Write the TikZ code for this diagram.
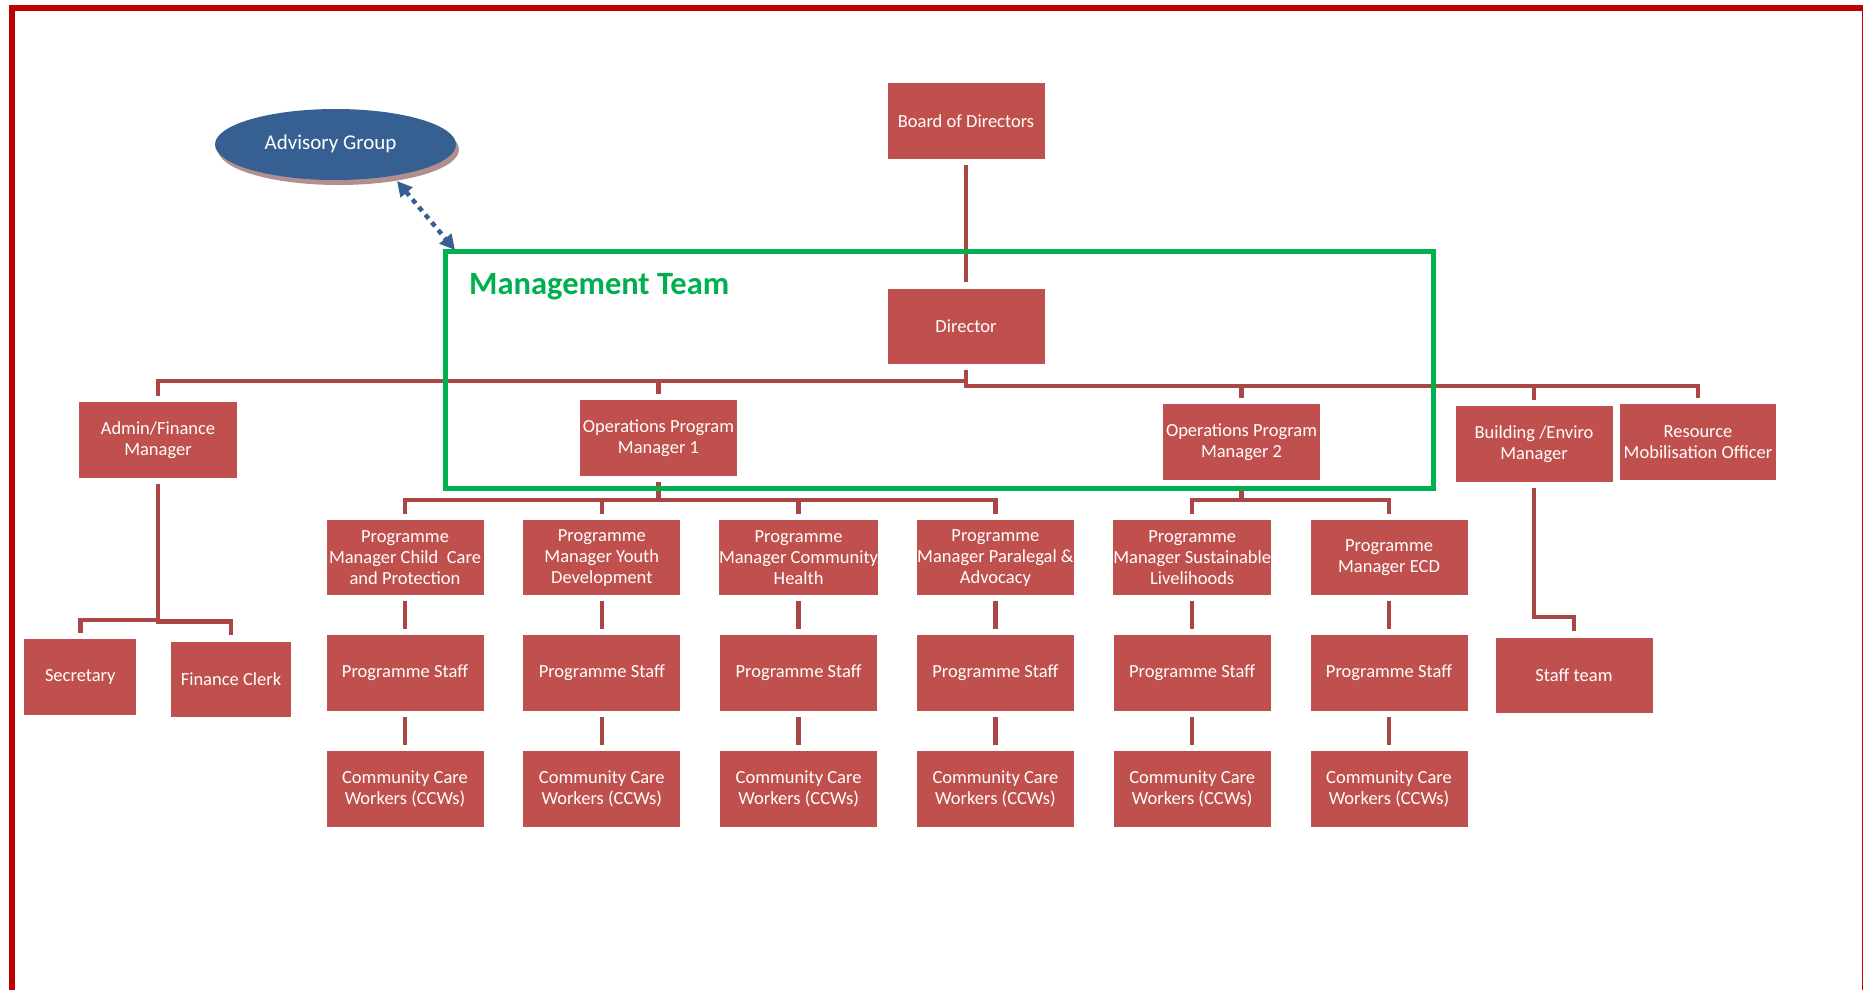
\documentclass[tikz,border=0pt]{standalone}
\usepackage{fontspec}
\setmainfont{Carlito}
\usetikzlibrary{arrows.meta,shapes.geometric}
\definecolor{boxred}{RGB}{192,80,77}
\definecolor{linered}{RGB}{170,70,68}
\definecolor{framered}{RGB}{192,0,0}
\definecolor{mgreen}{RGB}{0,176,80}
\definecolor{advblue}{RGB}{54,96,146}
\definecolor{advshadow}{RGB}{178,143,143}
\begin{document}
\begin{tikzpicture}[x=1pt,y=-1pt,
  orgbox/.style={fill=boxred, text=white, minimum width=157pt, minimum height=76pt,
    inner sep=0pt, align=center, font=\fontsize{18.5}{21}\selectfont},
  conn/.style={draw=linered, line width=4.5pt, shorten <=6pt, shorten >=6pt},
  advarrow/.style={draw=advblue, line width=4.5pt, dash pattern=on 5pt off 5pt,
    {Triangle[length=15pt,width=15pt]}-{Triangle[length=15pt,width=15pt]}},
  mgmtbox/.style={draw=mgreen, line width=5pt, minimum width=988pt, minimum height=236.5pt, inner sep=0pt}
]
\useasboundingbox (0,0) rectangle (1863,989);
% outer frame
\draw[framered, line width=5.5pt] (11.8,1000) -- (11.8,8) -- (1864.5,8) -- (1864.5,1000);

% advisory group
\node[ellipse, fill=advshadow, minimum width=241pt, minimum height=71pt, inner sep=0pt] (advsh) at (338.5,149.5) {};
\node[ellipse, fill=advblue, text=white, minimum width=241pt, minimum height=71pt, inner sep=0pt,
  font=\fontsize{21}{24}\selectfont] (adv) at (335.5,144.5) {\hspace*{-10pt}\raisebox{5.5pt}{Advisory Group}};

% top
\node[orgbox] (board) at (966,121) {Board of Directors};
\node[orgbox, minimum height=75pt] (dir) at (966,326) {Director};

% level 2
\node[orgbox, minimum width=158pt] (admin) at (158,440) {Admin/Finance\\Manager};
\node[orgbox] (ops1) at (658.5,438) {Operations Program\\Manager 1};
\node[orgbox] (ops2) at (1241.5,442) {Operations Program\\Manager 2};
\node[orgbox] (build) at (1534,444) {Building /Enviro\\Manager};
\node[orgbox, minimum width=156pt] (res) at (1698,442) {Resource\\Mobilisation Officer};

% admin children
\node[orgbox, minimum width=112pt] (sec) at (80.3,677) {Secretary};
\node[orgbox, minimum width=120pt, minimum height=75pt] (fclerk) at (231,679) {Finance Clerk};

% building child
\node[orgbox, minimum height=75pt] (steam) at (1574,675) {Staff team};

% programme managers
\node[orgbox, minimum height=75pt] (pm1) at (405,557.7) {Programme\\Manager Child~ Care\\and Protection};
\node[orgbox, minimum height=75pt] (pm2) at (601.8,557.7) {Programme\\Manager Youth\\Development};
\node[orgbox, minimum height=75pt] (pm3) at (798.6,557.7) {Programme\\Manager Community\\Health};
\node[orgbox, minimum height=75pt] (pm4) at (995.4,557.7) {Programme\\Manager Paralegal \&\\Advocacy};
\node[orgbox, minimum height=75pt] (pm5) at (1192.2,557.7) {Programme\\Manager Sustainable\\Livelihoods};
\node[orgbox, minimum height=75pt] (pm6) at (1389,557.7) {Programme\\Manager ECD};

% staff and CCWs
\foreach \i/\x in {1/405,2/601.8,3/798.6,4/995.4,5/1192.2,6/1389}{
  \node[orgbox] (st\i) at (\x,673) {Programme Staff};
  \node[orgbox] (ccw\i) at (\x,788.7) {Community Care\\Workers (CCWs)};
}

% connectors
\draw[conn] (board.south) -- (dir.north);
\draw[conn] (dir.south) -- ++(0,17.5) -| (admin.north);
\draw[conn] (dir.south) -- ++(0,17.5) -| (ops1.north);
\draw[conn] (dir.south) -- ++(0,22.5) -| (ops2.north);
\draw[conn] (dir.south) -- ++(0,22.5) -| (build.north);
\draw[conn] (dir.south) -- ++(0,22.5) -| (res.north);

\draw[conn] (admin.south) -- ++(0,142) -| (sec.north);
\draw[conn] (admin.south) -- ++(0,143.5) -| (fclerk.north);
\draw[conn] (build.south) -- ++(0,135) -| (steam.north);

\foreach \i in {1,2,3,4}{
  \draw[conn] (ops1.south) -- ++(0,24) -| (pm\i.north);
}
\foreach \i in {5,6}{
  \draw[conn] (ops2.south) -- ++(0,20) -| (pm\i.north);
}
\foreach \i in {1,...,6}{
  \draw[conn] (pm\i.south) -- (st\i.north);
  \draw[conn] (st\i.south) -- (ccw\i.north);
}

% management team box
\node[mgmtbox] (mgmt) at (939.5,369.75) {};
\node[anchor=base west, inner sep=0pt, text=mgreen, font=\fontsize{32.5}{36}\selectfont\bfseries] (mgmtlabel) at (469,294) {Management Team};

% advisory arrow
\coordinate (advtip) at (397,181);
\coordinate (mgtip) at (455,250);
\draw[advarrow] (advtip) -- (mgtip);
\end{tikzpicture}
\end{document}
